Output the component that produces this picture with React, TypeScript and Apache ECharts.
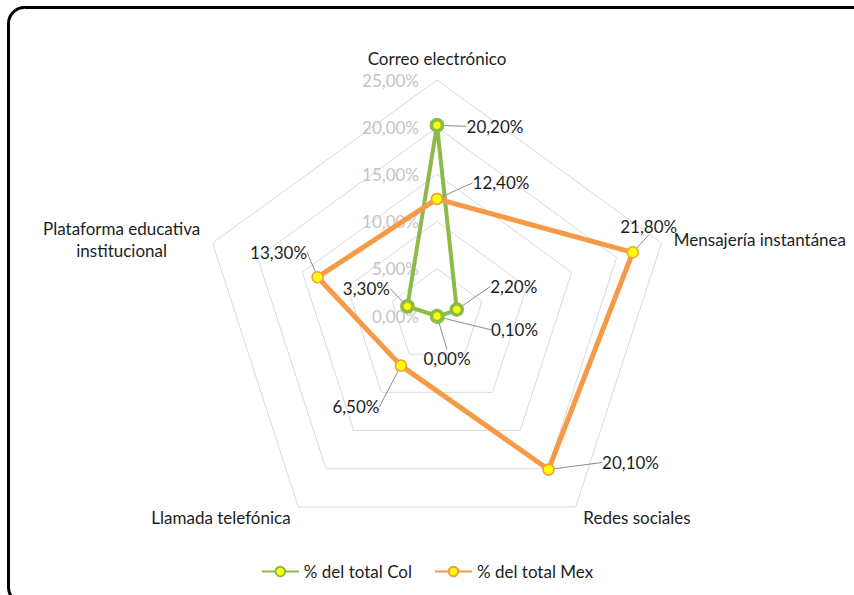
import React, { useEffect, useRef } from 'react';
import * as echarts from 'echarts';

// ---- data ----
const categories = [
  'Correo electrónico',
  'Mensajería instantánea',
  'Redes sociales',
  'Llamada telefónica',
  'Plataforma educativa institucional',
];
const seriesNames = ['% del total Col', '% del total Mex'];
const colValues = [20.2, 2.2, 0.1, 0.0, 3.3];
const mexValues = [12.4, 21.8, 20.1, 6.5, 13.3];
const axisMin = 0;
const axisMax = 25;
const tickStep = 5;

// ---- layout / style (not data) ----
const CENTER: [number, number] = [437, 316];
const RADIUS = 236;
const GREEN = '#8dbb48';
const ORANGE = '#f79a47';
const TEXT = '#1e1e1e';
const FONT = 'Lato';
const FS = 17;
// offsets of each data label from its point (Col, Mex)
const labelOffsets: number[][][] = [
  [[58, 1], [57, -23], [77, 13], [10, 42], [-41, -18]],
  [[64, -16], [16, -26], [82, -7], [-45, 41], [-39, -25]],
];

const fmt = (v: number) => v.toFixed(2).replace('.', ',') + '%';

export default function App() {
  const ref = useRef<HTMLDivElement>(null);
  useEffect(() => {
    const chart = echarts.init(ref.current!, undefined, { renderer: 'svg' });
    const n = categories.length;
    // radar goes counter-clockwise; reorder so it reads clockwise like the source
    const order = [0, ...Array.from({ length: n - 1 }, (_, k) => n - 1 - k)];
    const makeData = (vals: number[]) =>
      [...vals, vals[0]].map((v, i) => ({
        value: [v, i],
        label: { show: i < vals.length },
      }));
    const splitName = (name: string) => {
      if (name.length <= 24) return name;
      const w = name.split(' ');
      return `{c|${w.slice(0, -1).join(' ')}}\n{c|${w[w.length - 1]}}`;
    };
    const mkSeries = (idx: number, vals: number[], color: string, width: number, sym: any) => ({
      type: 'line',
      name: seriesNames[idx],
      coordinateSystem: 'polar',
      data: makeData(vals),
      symbol: 'circle',
      symbolSize: sym.size,
      lineStyle: { color, width },
      itemStyle: { color: '#ffff00', borderColor: sym.border, borderWidth: sym.bw },
      label: {
        show: true,
        position: 'inside',
        formatter: (p: any) => fmt(p.value[0]),
        color: TEXT,
        fontSize: FS,
        fontFamily: FONT,
      },
      labelLine: { show: true, lineStyle: { color: '#8c8c8c', width: 1 } },
      labelLayout: (p: any) => {
        const o = labelOffsets[p.seriesIndex] && labelOffsets[p.seriesIndex][p.dataIndex];
        return o ? { dx: o[0], dy: o[1] } : {};
      },
      emphasis: { disabled: true },
      z: 3 + idx,
    });
    chart.setOption({
      animation: false,
      backgroundColor: '#ffffff',
      radar: {
        center: CENTER,
        radius: RADIUS,
        startAngle: 90,
        shape: 'polygon',
        splitNumber: (axisMax - axisMin) / tickStep,
        nameGap: 13,
        indicator: order.map((i) => ({ name: categories[i], min: axisMin, max: axisMax })),
        axisName: {
          color: TEXT,
          fontSize: FS,
          fontFamily: FONT,
          formatter: (name: string) => splitName(name),
          rich: { c: { align: 'center', color: TEXT, fontSize: FS, fontFamily: FONT, lineHeight: 22 } },
        },
        axisLine: { show: false },
        axisTick: { show: false },
        axisLabel: { show: false },
        splitLine: { lineStyle: { color: '#d9d9d9', width: 1 } },
        splitArea: { show: false },
      },
      polar: { center: CENTER, radius: RADIUS },
      angleAxis: { type: 'value', min: 0, max: n, startAngle: 90, clockwise: true, show: false },
      radiusAxis: {
        type: 'value',
        min: axisMin,
        max: axisMax,
        interval: tickStep,
        axisLine: { show: false },
        axisTick: { show: false },
        splitLine: { show: false },
        axisLabel: { formatter: (v: number) => fmt(v), color: '#c4c4c4', fontSize: FS, fontFamily: FONT, margin: 18 },
      },
      legend: {
        data: seriesNames,
        left: 'center',
        bottom: 10,
        itemWidth: 37,
        itemHeight: 12,
        itemGap: 22,
        textStyle: { color: TEXT, fontSize: FS, fontFamily: FONT },
      },
      graphic: [
        {
          type: 'rect',
          shape: { x: 8.5, y: 7.5, width: 900, height: 596, r: 16 },
          style: { fill: 'none', stroke: '#000', lineWidth: 3 },
          silent: true,
        },
      ],
      series: [
        mkSeries(0, colValues, GREEN, 4, { size: 11, border: GREEN, bw: 3.5 }),
        mkSeries(1, mexValues, ORANGE, 5, { size: 11, border: ORANGE, bw: 1.5 }),
      ],
    });
    return () => chart.dispose();
  }, []);
  return <div ref={ref} style={{ position: 'absolute', left: 0, top: 0, width: 854, height: 595 }} />;
}
